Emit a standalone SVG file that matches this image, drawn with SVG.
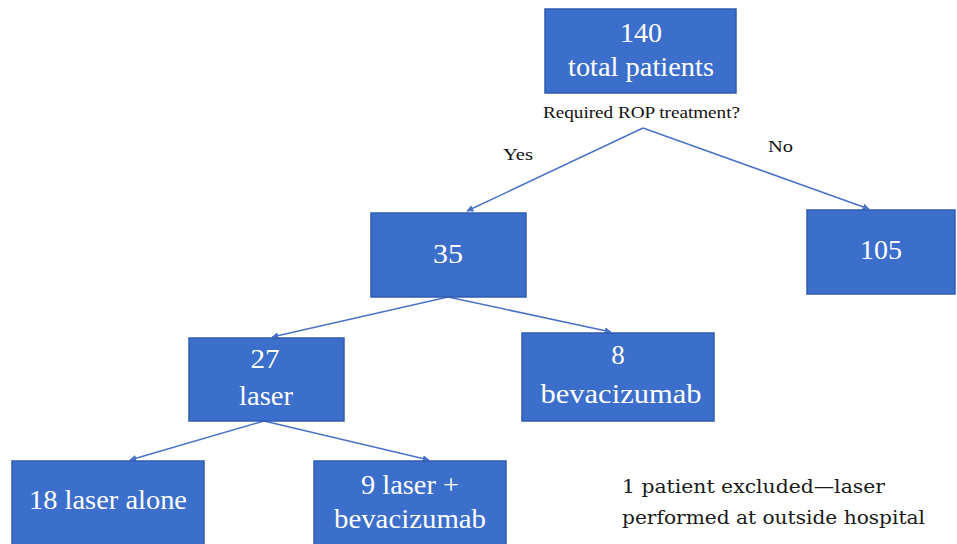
<svg xmlns="http://www.w3.org/2000/svg" width="957" height="544" viewBox="0 0 957 544">
  <style>
    .box { fill: #3c6ecb; stroke: #2f5cb0; stroke-width: 1.5; }
    text.lbl { font-family: 'Liberation Serif', 'Times New Roman', serif; font-size: 27px; fill: #ffffff; text-anchor: middle; }
    text.cap { font-family: 'Liberation Serif', 'Times New Roman', serif; font-size: 16px; fill: #111111; }
    text.note { font-family: 'DejaVu Serif', 'Liberation Serif', serif; font-size: 19px; fill: #1a1a1a; }
    .edge { fill: none; stroke: #4a72c6; stroke-width: 1.5; }
  </style>
  <defs>
    <marker id="arrow" viewBox="0 0 10 10" refX="9" refY="5" markerWidth="7" markerHeight="7" orient="auto" markerUnits="userSpaceOnUse">
      <path d="M0,0 L10,5 L0,10 z" fill="#4a72c6"/>
    </marker>
  </defs>
  <rect width="957" height="544" fill="#ffffff"/>

  <g id="connectors">
    <path class="edge" d="M643,128 L467,211" marker-end="url(#arrow)"/>
    <path class="edge" d="M643,128 L869,209" marker-end="url(#arrow)"/>
    <path class="edge" d="M448,297 L272,337" marker-end="url(#arrow)"/>
    <path class="edge" d="M448,297 L611,332" marker-end="url(#arrow)"/>
    <path class="edge" d="M264,421 L130,460" marker-end="url(#arrow)"/>
    <path class="edge" d="M264,421 L429,460" marker-end="url(#arrow)"/>
  </g>

  <g id="node-total">
    <rect class="box" x="545" y="9" width="191" height="84"/>
    <text class="lbl" x="641" y="42" textLength="42" lengthAdjust="spacingAndGlyphs">140</text>
    <text class="lbl" x="641" y="76" textLength="146" lengthAdjust="spacingAndGlyphs">total patients</text>
  </g>
  <text class="cap" x="543" y="118" textLength="197" lengthAdjust="spacingAndGlyphs">Required ROP treatment?</text>
  <text class="cap" x="503" y="160" font-size="17" textLength="30" lengthAdjust="spacingAndGlyphs">Yes</text>
  <text class="cap" x="768" y="152" font-size="17" textLength="25" lengthAdjust="spacingAndGlyphs">No</text>

  <g id="node-yes">
    <rect class="box" x="371" y="213" width="155" height="84"/>
    <text class="lbl" x="448" y="263" textLength="30" lengthAdjust="spacingAndGlyphs">35</text>
  </g>

  <g id="node-no">
    <rect class="box" x="807" y="210" width="148" height="84"/>
    <text class="lbl" x="881" y="259" textLength="42" lengthAdjust="spacingAndGlyphs">105</text>
  </g>

  <g id="node-laser">
    <rect class="box" x="189" y="338" width="155" height="83"/>
    <text class="lbl" x="265" y="368" textLength="29" lengthAdjust="spacingAndGlyphs">27</text>
    <text class="lbl" x="266" y="405" textLength="54" lengthAdjust="spacingAndGlyphs">laser</text>
  </g>

  <g id="node-bevacizumab">
    <rect class="box" x="522" y="333" width="192" height="88"/>
    <text class="lbl" x="618" y="364">8</text>
    <text class="lbl" x="621" y="403" textLength="161" lengthAdjust="spacingAndGlyphs">bevacizumab</text>
  </g>

  <g id="node-laser-alone">
    <rect class="box" x="12" y="461" width="192" height="90"/>
    <text class="lbl" x="108" y="509" textLength="158" lengthAdjust="spacingAndGlyphs">18 laser alone</text>
  </g>

  <g id="node-laser-bev">
    <rect class="box" x="314" y="461" width="192" height="90"/>
    <text class="lbl" x="410" y="494" textLength="98" lengthAdjust="spacingAndGlyphs">9 laser +</text>
    <text class="lbl" x="410" y="528" textLength="152" lengthAdjust="spacingAndGlyphs">bevacizumab</text>
  </g>

  <g id="note">
    <text class="note" x="622" y="493" textLength="263" lengthAdjust="spacingAndGlyphs">1 patient excluded—laser</text>
    <text class="note" x="622" y="524" textLength="303" lengthAdjust="spacingAndGlyphs">performed at outside hospital</text>
  </g>
</svg>
